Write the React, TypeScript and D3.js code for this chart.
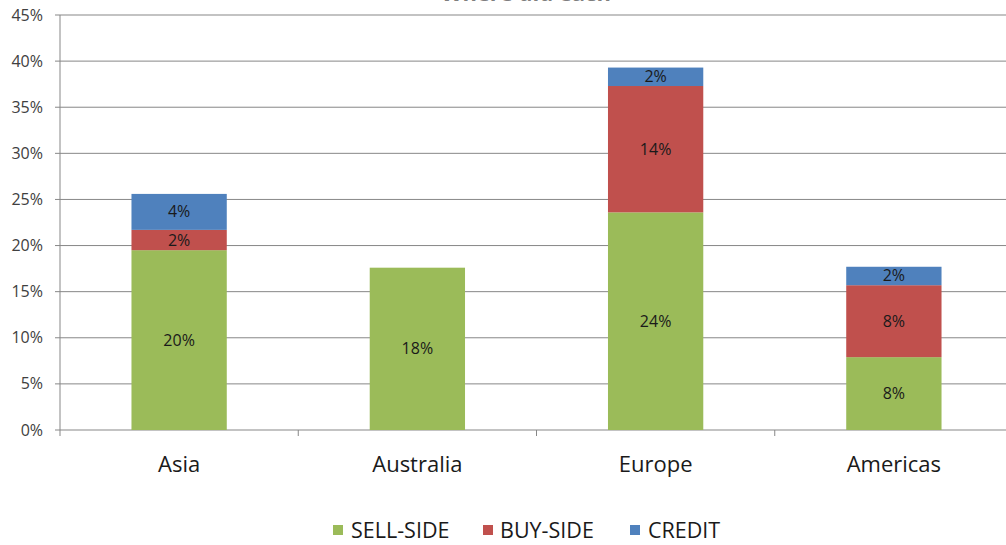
import React from "react";
import * as d3 from "d3";

const categories = ["Asia", "Australia", "Europe", "Americas"];
const seriesNames = ["SELL-SIDE", "BUY-SIDE", "CREDIT"];
const sellSide = [19.5, 17.6, 23.6, 7.9];
const buySide = [2.2, 0, 13.7, 7.8];
const credit = [3.9, 0, 2.0, 2.0];
const yTicks = [0, 5, 10, 15, 20, 25, 30, 35, 40, 45];
const colors = ["#9BBB59", "#C0504D", "#4F81BD"];
const title = "Where did each";

const W = 1006;
const H = 545;
const FONT = "'Open Sans', 'Liberation Sans', sans-serif";

export default function App() {
  const left = 60;
  const right = 1013;
  const top = 15;
  const bottom = 430;
  const x = d3.scaleBand<string>().domain(categories).range([left, right]).paddingInner(0.6).paddingOuter(0.3);
  const y = d3.scaleLinear().domain([0, 45]).range([bottom, top]);
  const rows = categories.map((c, i) => ({ cat: c, s0: sellSide[i], s1: buySide[i], s2: credit[i] }));
  const stack = d3.stack<any>().keys(["s0", "s1", "s2"])(rows);
  const step = x.step();
  const boundaries = categories.map((c) => (x(c) as number) - (step - x.bandwidth()) / 2).concat([right]);

  const legendItems = [
    { name: seriesNames[0], sx: 333, tx: 351 },
    { name: seriesNames[1], sx: 483, tx: 500 },
    { name: seriesNames[2], sx: 630, tx: 648 },
  ];

  return (
    <svg width={W} height={H} style={{ position: "absolute", left: 0, top: 0, background: "#fff" }} fontFamily={FONT}>
      <text x={526} y={1} textAnchor="middle" fontSize={22} fontWeight="bold" fill="#7f7f7f">{title}</text>
      {yTicks.map((t) => (
        <g key={t}>
          <line x1={left - 5} x2={right} y1={y(t)} y2={y(t)} stroke="#878787" strokeWidth={1} />
          <text x={left - 17} y={y(t) + 5.5} textAnchor="end" fontSize={16} fill="#404040">{t + "%"}</text>
        </g>
      ))}
      <line x1={left} x2={left} y1={top} y2={bottom} stroke="#878787" />
      {boundaries.map((b, i) => (
        <line key={i} x1={b} x2={b} y1={bottom} y2={bottom + 6} stroke="#878787" />
      ))}
      {stack.map((layer, si) => (
        <g key={si}>
          {layer.map((d, i) => {
            const v = d[1] - d[0];
            if (v <= 0) return null;
            const bx = x(categories[i]) as number;
            const y0 = y(d[0]);
            const y1 = y(d[1]);
            return (
              <g key={i}>
                <rect x={bx} y={y1} width={x.bandwidth()} height={y0 - y1} fill={colors[si]} />
                <text x={bx + x.bandwidth() / 2} y={(y0 + y1) / 2 + 5.5} textAnchor="middle" fontSize={16} fill="#1a1a1a">
                  {Math.round(v) + "%"}
                </text>
              </g>
            );
          })}
        </g>
      ))}
      {categories.map((c) => (
        <text key={c} x={(x(c) as number) + x.bandwidth() / 2} y={472} textAnchor="middle" fontSize={22} fill="#1a1a1a">{c}</text>
      ))}
      {legendItems.map((l, i) => (
        <g key={l.name}>
          <rect x={l.sx} y={525} width={10} height={10} fill={colors[i]} />
          <text x={l.tx} y={538} fontSize={21.5} fill="#1a1a1a">{l.name}</text>
        </g>
      ))}
    </svg>
  );
}
